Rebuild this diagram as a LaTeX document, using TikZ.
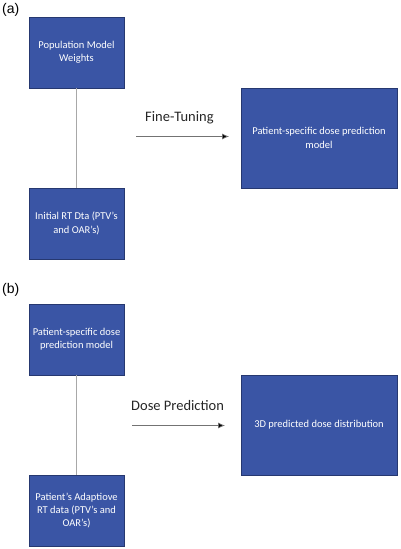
\documentclass[tikz,border=0pt]{standalone}
\usepackage{fontspec}
\setmainfont{Carlito}
\newfontfamily\labfont{Liberation Sans}
\usetikzlibrary{arrows.meta}
\definecolor{boxfill}{HTML}{3A55A5}
\definecolor{boxline}{HTML}{263870}
\definecolor{connline}{HTML}{A8A8A8}
\tikzset{
  bluebox/.style={draw=boxline, line width=0.8bp, fill=boxfill, text=white,
    font=\fontsize{10.5bp}{13.3bp}\selectfont, align=center, inner sep=0pt},
  conn/.style={draw=connline, line width=0.9bp},
  flowarrow/.style={draw=black!55, line width=0.7bp, -{Latex[length=7bp,width=6bp,fill=black]}},
  arrowlabel/.style={font=\fontsize{14.5bp}{16bp}\selectfont, text=black!85, inner sep=0pt},
  panellabel/.style={font=\labfont\fontsize{14bp}{16bp}\selectfont, inner sep=0pt}
}
\begin{document}
\begin{tikzpicture}[x=1bp,y=-1bp]
\useasboundingbox (0,0) rectangle (400,549);
% panel (a)
\node[panellabel, anchor=north west] (la) at (2,3) {(a)};
\node[bluebox, minimum width=95bp, minimum height=71bp] (a1) at (76.5,52.5) {Population Model\\Weights};
\node[bluebox, minimum width=95bp, minimum height=71bp] (a2) at (76.5,223.5) {Initial RT Dta (PTV's\\and OAR's)};
\node[bluebox, minimum width=156bp, minimum height=100bp] (a3) at (319,138) {Patient-specific dose prediction\\model};
\draw[conn] (a1.south) -- (a2.north);
\node[arrowlabel, anchor=west] (ta) at (145,118) {Fine-Tuning};
\coordinate (as) at (136,136.5);
\coordinate (ae) at (229,136.5);
\draw[flowarrow] (as) -- (ae);
% panel (b)
\node[panellabel, anchor=north west] (lb) at (2,283) {(b)};
\node[bluebox, minimum width=95bp, minimum height=71bp] (b1) at (76.5,339.5) {Patient-specific dose\\prediction model};
\node[bluebox, minimum width=95bp, minimum height=71bp] (b2) at (76.5,510.5) {Patient's Adaptiove\\RT data (PTV's and\\OAR's)};
\node[bluebox, minimum width=156bp, minimum height=100bp] (b3) at (319,425) {3D predicted dose distribution};
\draw[conn] (b1.south) -- (b2.north);
\node[arrowlabel, anchor=west] (tb) at (131,406) {Dose Prediction};
\coordinate (bs) at (132,425.5);
\coordinate (be) at (225,425.5);
\draw[flowarrow] (bs) -- (be);
\end{tikzpicture}
\end{document}
